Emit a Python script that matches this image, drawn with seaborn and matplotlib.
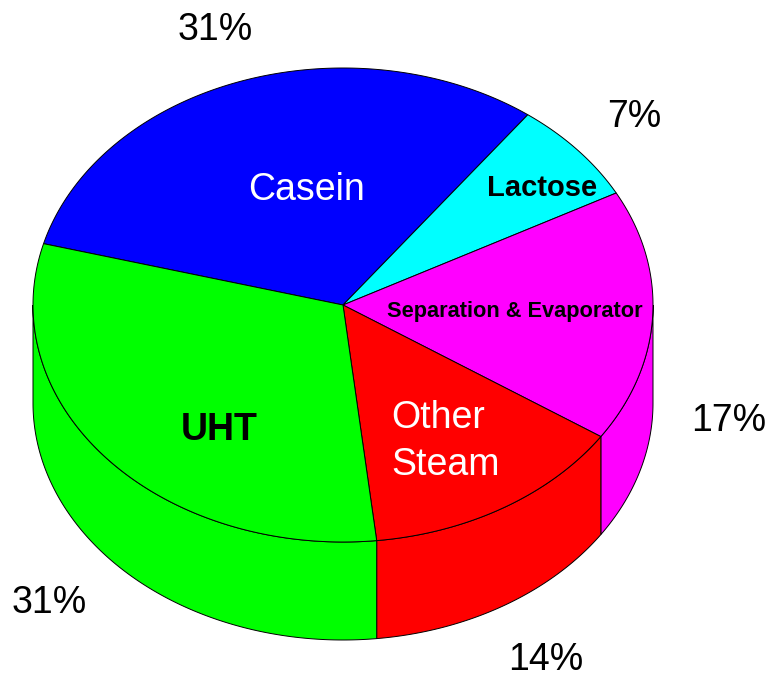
import numpy as np
import seaborn as sns
import matplotlib.pyplot as plt

# clockwise from the Casein / UHT edge
names = ['Casein', 'Lactose', 'Separation & Evaporator', 'Other\nSteam', 'UHT']
shares = [31.0, 7.0, 17.2, 13.9, 30.9]  # labels show them rounded
colors = ['#0000ff', '#00ffff', '#ff00ff', '#ff0000', '#00ff00']
name_colors = ['white', 'black', 'black', 'white', 'black']
name_weights = ['normal', 'bold', 'bold', 'normal', 'bold']
name_sizes = [27, 21, 15.7, 27, 27]
name_pos = [(306, 190), (542, 188), (515, 312), (391, 441.5), (219, 430)]
name_align = ['center', 'center', 'center', 'left', 'center']
share_pos = [(215, 30), (634, 117), (729, 421), (546, 660), (49, 603)]

startAngle = 165.0
cx, cy = 343, 305
rx, ry = 310, 237
depth = 98

sns.set_theme(style='white')
plt.rcParams['font.family'] = ['Liberation Sans', 'DejaVu Sans']


def rim(a0, a1, yOffset=0):
	"""points on the ellipse between two angles (degrees)"""
	n = max(int(abs(a1 - a0)) * 2, 2)
	t = np.radians(np.linspace(a0, a1, n))
	return cx + rx * np.cos(t), cy - ry * np.sin(t) + yOffset


fig, ax = plt.subplots(figsize=(7.71, 6.77), dpi=100)
ax.set_position([0, 0, 1, 1])
ax.set_xlim(0, 771)
ax.set_ylim(677, 0)
ax.axis('off')

edges = startAngle - np.cumsum([0] + shares) * 3.6

for idx, share in enumerate(shares):
	a0, a1 = edges[idx], edges[idx + 1]  # a1 < a0, going clockwise

	# side wall, only the part on the front of the disc (-180 to 0 deg)
	for turn in [-360, 0, 360]:
		wa, wb = max(a1 + turn, -180), min(a0 + turn, 0)
		if wb > wa:
			xTop, yTop = rim(wa, wb)
			xBot, yBot = rim(wb, wa, depth)
			ax.fill(np.r_[xTop, xBot], np.r_[yTop, yBot], color=colors[idx],
				ec='black', lw=0.7, zorder=1)

	# top face
	x, y = rim(a0, a1)
	ax.fill(np.r_[cx, x], np.r_[cy, y], color=colors[idx], ec='black', lw=0.7, zorder=2)

	ax.text(*name_pos[idx], names[idx], color=name_colors[idx], fontweight=name_weights[idx],
		fontsize=name_sizes[idx], ha=name_align[idx], va='center', linespacing=1.38, zorder=3)
	ax.text(*share_pos[idx], f'{share:.0f}%', color='black', fontsize=27,
		ha='center', va='center', zorder=3)

fig.savefig('out.png', dpi=100, facecolor='white')
